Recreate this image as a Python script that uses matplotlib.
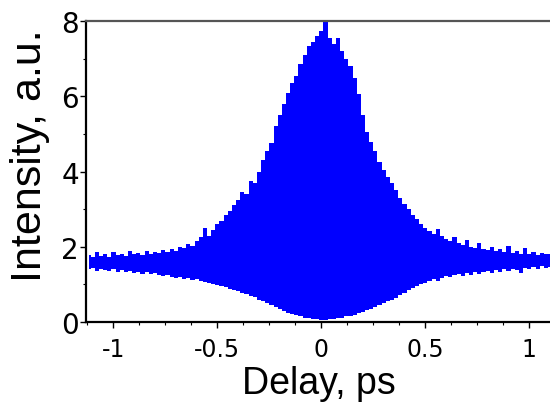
import numpy as np
import matplotlib
matplotlib.use("Agg")
import matplotlib.pyplot as plt
from matplotlib.ticker import MultipleLocator, FixedLocator

plt.rcParams["font.family"] = ["Liberation Sans", "DejaVu Sans"]
plt.rcParams["axes.unicode_minus"] = False

# delay grid (ps) and envelope of the fringes
delay_ps = [
    -1.12, -1.10, -1.08, -1.06, -1.04, -1.02, -1.00, -0.98, -0.96, -0.94, -0.92, -0.90, -0.88, -0.86, -0.84, -0.82, -0.80,
    -0.78, -0.76, -0.74, -0.72, -0.70, -0.68, -0.66, -0.64, -0.62, -0.60,
    -0.58, -0.56, -0.54, -0.52, -0.50, -0.48, -0.46, -0.44, -0.42, -0.40,
    -0.38, -0.36, -0.34, -0.32, -0.30, -0.28, -0.26, -0.24, -0.22, -0.20,
    -0.18, -0.16, -0.14, -0.12, -0.10, -0.08, -0.06, -0.04, -0.02, 0.00,
    0.02, 0.04, 0.06, 0.08, 0.10, 0.12, 0.14, 0.16, 0.18, 0.20,
    0.22, 0.24, 0.26, 0.28, 0.30, 0.32, 0.34, 0.36, 0.38, 0.40,
    0.42, 0.44, 0.46, 0.48, 0.50, 0.52, 0.54, 0.56, 0.58, 0.60,
    0.62, 0.64, 0.66, 0.68, 0.70, 0.72, 0.74, 0.76, 0.78, 0.80,
    0.82, 0.84, 0.86, 0.88, 0.90, 0.92, 0.94, 0.96, 0.98, 1.00, 1.02, 1.04, 1.06, 1.08, 1.10,
]

upper = [
    1.78, 1.72, 1.85, 1.76, 1.80, 1.74, 1.86, 1.78, 1.82, 1.75, 1.88, 1.80, 1.84, 1.78, 1.90, 1.82, 1.86,
    1.84, 1.92, 1.86, 1.95, 1.90, 2.00, 1.96, 2.08, 2.02, 2.15,
    2.25, 2.50, 2.30, 2.45, 2.62, 2.70, 2.85, 2.95, 3.10, 3.25,
    3.45, 3.40, 3.75, 3.70, 4.00, 4.30, 4.55, 4.75, 5.20, 5.50,
    5.80, 6.10, 6.35, 6.55, 6.85, 7.10, 7.35, 7.45, 7.60, 7.75,
    8.00, 7.55, 7.40, 7.55, 7.20, 7.00, 6.80, 6.50, 6.05, 5.50,
    5.05, 4.80, 4.55, 4.25, 4.05, 3.85, 3.70, 3.50, 3.30, 3.15,
    3.00, 2.85, 2.75, 2.60, 2.50, 2.42, 2.35, 2.48, 2.28, 2.20,
    2.15, 2.25, 2.10, 2.05, 2.18, 2.00, 1.98, 2.10, 1.95, 1.92,
    2.00, 1.88, 1.95, 1.85, 2.02, 1.84, 1.90, 1.82, 1.96, 1.80, 1.86, 1.78, 1.84, 1.80, 1.82,
]

lower = [
    1.40, 1.44, 1.36, 1.42, 1.38, 1.35, 1.40, 1.33, 1.38, 1.32, 1.36, 1.30, 1.34, 1.29, 1.32, 1.27, 1.30,
    1.26, 1.22, 1.25, 1.20, 1.18, 1.21, 1.15, 1.17, 1.12, 1.14,
    1.10, 1.06, 1.04, 1.01, 0.98, 0.95, 0.92, 0.88, 0.86, 0.82,
    0.78, 0.74, 0.70, 0.66, 0.60, 0.55, 0.50, 0.45, 0.40, 0.36,
    0.30, 0.25, 0.22, 0.18, 0.15, 0.12, 0.10, 0.08, 0.07, 0.06,
    0.06, 0.08, 0.09, 0.11, 0.12, 0.15, 0.17, 0.20, 0.24, 0.28,
    0.32, 0.36, 0.40, 0.45, 0.50, 0.55, 0.60, 0.65, 0.72, 0.78,
    0.84, 0.90, 0.95, 1.00, 1.05, 1.10, 1.14, 1.10, 1.18, 1.22,
    1.20, 1.25, 1.28, 1.23, 1.30, 1.26, 1.32, 1.28, 1.33, 1.35,
    1.30, 1.38, 1.34, 1.40, 1.36, 1.42, 1.38, 1.30, 1.44, 1.40, 1.46, 1.42, 1.48, 1.44, 1.46,
]

x_ticks = [-1, -0.5, 0, 0.5, 1]
x_tick_labels = ["-1", "-0.5", "0", "0.5", "1"]
y_ticks = [0, 2, 4, 6, 8]

fig = plt.figure(figsize=(5.5, 4.1), dpi=100)
ax = fig.add_axes([0.156, 0.212, 0.846, 0.734])

ax.fill_between(delay_ps, lower, upper, step="mid", color="#0000ff", linewidth=0)

ax.set_xlim(-1.133, 1.105)
ax.set_ylim(0, 8)

ax.set_xticks(x_ticks)
ax.set_xticklabels(x_tick_labels, fontfamily="DejaVu Sans")
ax.xaxis.set_minor_locator(MultipleLocator(0.125))
ax.set_yticks(y_ticks)
ax.set_yticklabels([str(v) for v in y_ticks], fontfamily="DejaVu Sans")
ax.yaxis.set_minor_locator(FixedLocator([1, 3, 5, 7]))

ax.tick_params(axis="x", which="major", labelsize=17, length=4, width=1, direction="out", pad=7)
ax.tick_params(axis="y", which="major", labelsize=20, length=4, width=1, direction="out", pad=1)
ax.tick_params(which="minor", length=2.5, width=0.8, direction="out")

for side in ["left", "bottom"]:
    ax.spines[side].set_linewidth(1.6)
    ax.spines[side].set_color("black")
ax.spines["top"].set_linewidth(1.6)
ax.spines["top"].set_color("#555555")
ax.spines["right"].set_visible(False)

ax.set_xlabel("Delay, ps", fontsize=27)
ax.xaxis.set_label_coords(0.5, -0.143)
ax.set_ylabel("Intensity, a.u.", fontsize=31)
ax.yaxis.set_label_coords(-0.078, 0.555)

fig.savefig("out.png", dpi=100)
